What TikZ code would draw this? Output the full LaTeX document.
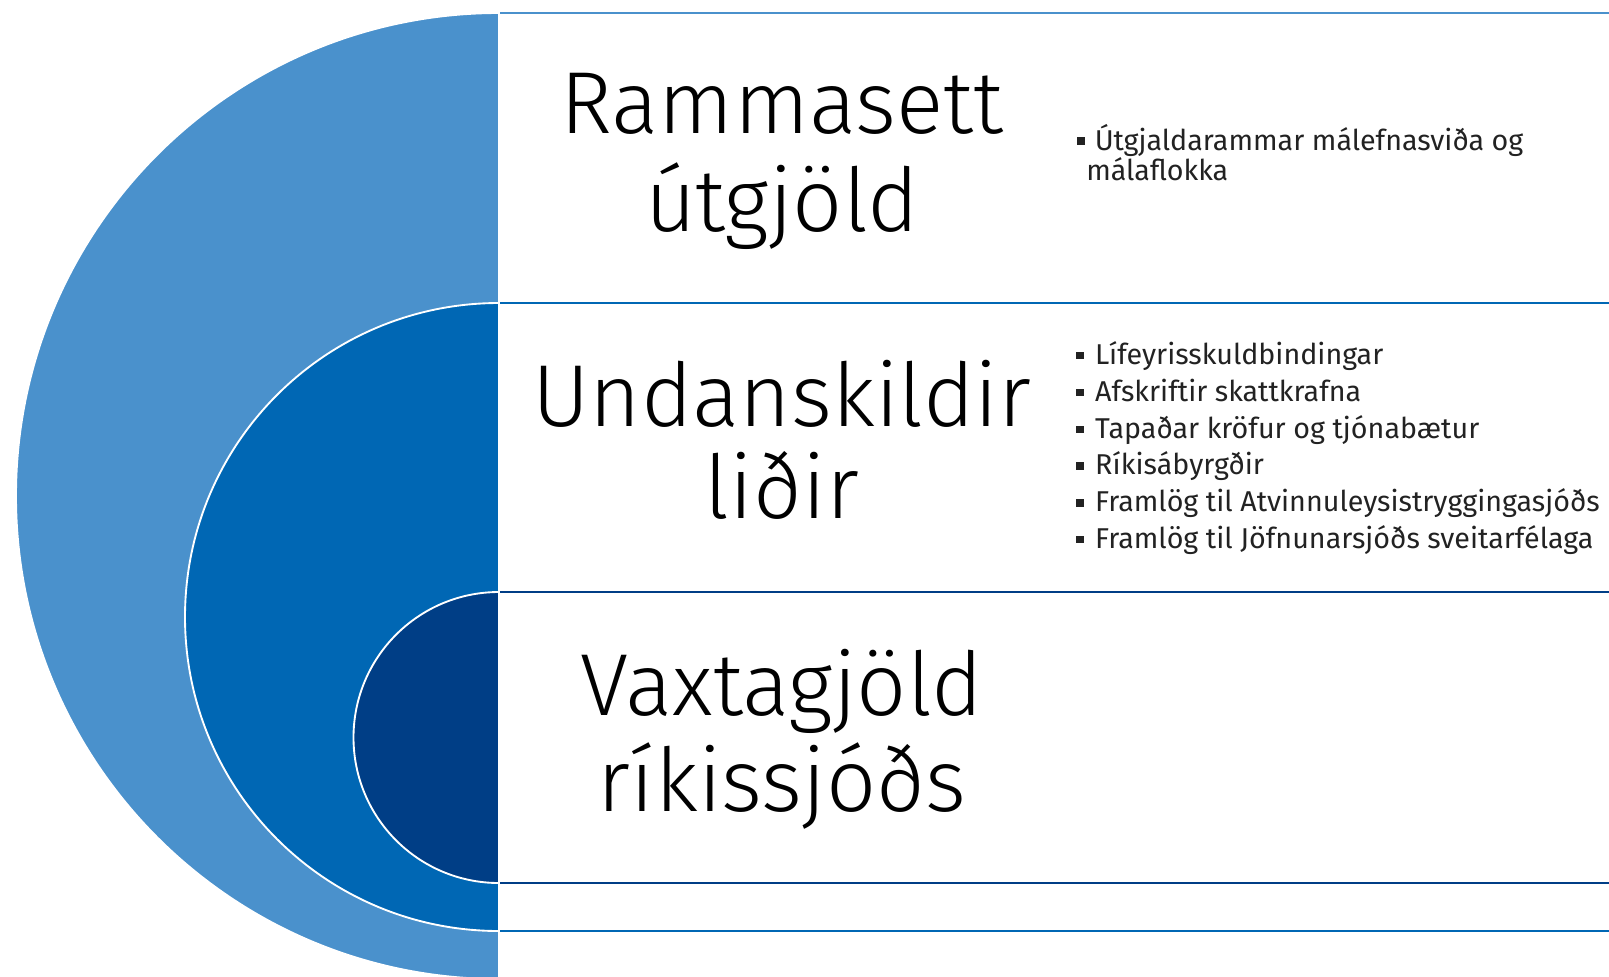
\documentclass[tikz,border=0pt]{standalone}
\usepackage{fontspec}
\setmainfont{Fira Sans}[UprightFont=* Light]
\newfontfamily\bulfont{Fira Sans}
\definecolor{lightb}{HTML}{4A91CC}
\definecolor{midb}{HTML}{0067B4}
\definecolor{darkb}{HTML}{003E86}
\definecolor{txtg}{HTML}{222222}
\newcommand{\sqb}{\rule[0.18em]{0.26em}{0.26em}}
\begin{document}
\begin{tikzpicture}[x=0.75pt,y=-0.75pt,
  boxA/.style={fill=white,draw=#1,line width=1.5pt},
  semi/.style={fill=#1,draw=white,line width=1.4pt},
  title/.style={font=\fontsize{66}{72}\selectfont,anchor=base,inner sep=0pt,text=black},
  bul/.style={font=\bulfont\fontsize{21.5}{26}\selectfont,anchor=base west,inner sep=0pt,text=txtg}]
\useasboundingbox (0,0) rectangle (1609,976);
\clip (0,0) rectangle (1609,976);
% box 1 and outer semicircle
\draw[boxA=lightb] (499,13) rectangle (1640,979);
\draw[semi=lightb] (499,13) arc[start angle=270,end angle=90,radius=483] -- cycle;
% box 2 and middle semicircle
\draw[boxA=midb] (499,303) rectangle (1640,931);
\draw[semi=midb] (499,303) arc[start angle=270,end angle=90,radius=314] -- cycle;
% box 3 and inner semicircle
\draw[boxA=darkb] (499,592) rectangle (1640,883);
\draw[semi=darkb] (499,592) arc[start angle=270,end angle=90,radius=145.5] -- cycle;
% titles
\node[title] (t1a) at (782,133) {Rammasett};
\node[title] (t1b) at (782,231) {útgjöld};
\node[title] (t2a) at (782,426) {Undanskildir};
\node[title] (t2b) at (782,518) {liðir};
\node[title] (t3a) at (782,715) {Vaxtagjöld};
\node[title] (t3b) at (782,811) {ríkissjóðs};
% bullets box 1
\node[bul] (b1a) at (1077,150) {\sqb\hspace{0.35em}Útgjaldarammar málefnasviða og};
\node[bul] (b1b) at (1086,180.5) {málaflokka};
% bullets box 2
\node[bul] (b2a) at (1076,364.5) {\sqb\hspace{0.4em}Lífeyrisskuldbindingar};
\node[bul] (b2b) at (1076,401.3) {\sqb\hspace{0.4em}Afskriftir skattkrafna};
\node[bul] (b2c) at (1076,438.1) {\sqb\hspace{0.4em}Tapaðar kröfur og tjónabætur};
\node[bul] (b2d) at (1076,474.9) {\sqb\hspace{0.4em}Ríkisábyrgðir};
\node[bul] (b2e) at (1076,511.7) {\sqb\hspace{0.4em}Framlög til Atvinnuleysistryggingasjóðs};
\node[bul] (b2f) at (1076,548.5) {\sqb\hspace{0.4em}Framlög til Jöfnunarsjóðs sveitarfélaga};
\end{tikzpicture}
\end{document}
